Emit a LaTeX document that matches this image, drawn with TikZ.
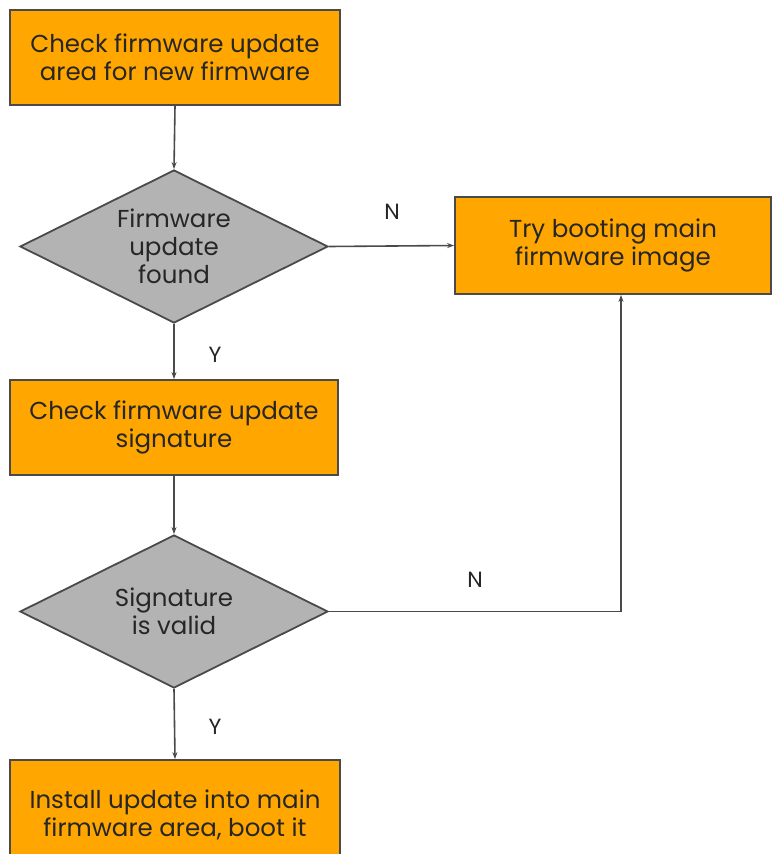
\documentclass[tikz,border=0pt]{standalone}
\usepackage{fontspec}
\setmainfont{Poppins}
\usetikzlibrary{shapes.geometric,arrows.meta}
\definecolor{boxor}{HTML}{FFA600}
\definecolor{dgray}{HTML}{B3B3B3}
\definecolor{edge}{HTML}{4A4A4A}
\begin{document}
\begin{tikzpicture}[x=1pt,y=-1pt,
  every node/.style={font=\fontsize{24.5}{28}\selectfont, text=black!85},
  procbox/.style={draw=edge, line width=1.8pt, fill=boxor, align=center, inner sep=0pt},
  decide/.style={draw=edge, line width=1.8pt, fill=dgray, diamond, aspect=2, align=center, inner sep=0pt},
  conn/.style={draw=edge, line width=1.6pt, -{Stealth[length=7pt,width=5pt]}},
  lbl/.style={font=\fontsize{22}{24}\selectfont, text=black!85}]
\useasboundingbox (0,0) rectangle (772,854);
\node[procbox, minimum width=330, minimum height=95] (b1) at (175,57.5) {Check firmware update\\area for new firmware};
\node[decide, minimum width=308, minimum height=153] (d1) at (174,246.5) {Firmware\\update\\found};
\node[procbox, minimum width=316, minimum height=97] (try) at (613,245.5) {Try booting main\\firmware image};
\node[procbox, minimum width=328, minimum height=95] (b2) at (174,427.5) {Check firmware update\\signature};
\node[decide, minimum width=308, minimum height=153] (d2) at (174,611.5) {Signature\\is valid};
\node[procbox, minimum width=330, minimum height=110] (b3) at (175,815) {Install update into main\\firmware area, boot it};
\coordinate (corner) at (621,611.5);
\draw[conn] (b1.south) -- (d1.north);
\draw[conn] (d1.east) -- (try.west);
\draw[conn] (d1.south) -- (b2.north);
\draw[conn] (b2.south) -- (d2.north);
\draw[conn] (d2.south) -- (b3.north);
\draw[conn] (d2.east) -- (corner) -- (try.south -| corner);
\node[lbl] (n1) at (392,212) {N};
\node[lbl] (y1) at (215,355) {Y};
\node[lbl] (n2) at (475,580) {N};
\node[lbl] (y2) at (215,727) {Y};
\end{tikzpicture}
\end{document}
